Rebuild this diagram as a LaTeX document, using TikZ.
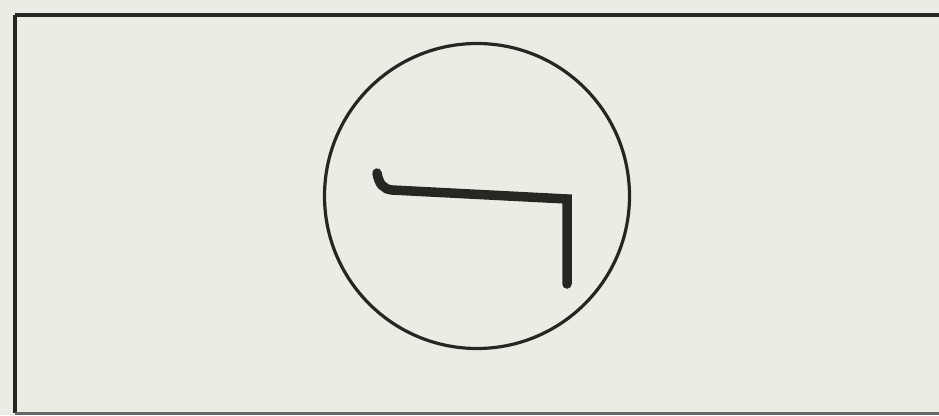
\documentclass[tikz,border=0pt]{standalone}
\definecolor{paper}{HTML}{ECEBE4}
\definecolor{ink}{HTML}{262623}
\tikzset{
  frameline/.style={draw=ink, line width=4.5pt},
  ringline/.style={draw=ink, line width=3.2pt},
  hookline/.style={draw=ink, line width=9.5pt, line cap=round, line join=miter}
}
\begin{document}
\begin{tikzpicture}[x=1pt,y=-1pt]
  \fill[paper] (0,0) rectangle (939,415);
  \useasboundingbox (0,0) rectangle (939,415);
  \begin{scope}
    \clip (0,0) rectangle (939,415);
    \draw[frameline] (15,15) -- (950,15);
    \draw[frameline] (15,15) -- (15,413);
    \draw[draw=ink!70, line width=3pt] (15,413) -- (950,413);
  \end{scope}
  \node[circle, ringline, minimum size=305pt, inner sep=0pt] (ring) at (477,196) {};
  \coordinate (tip) at (377,173);
  \coordinate (bend) at (392,190);
  \coordinate (corner) at (567,199);
  \coordinate (foot) at (567,284);
  \draw[hookline] (tip) .. controls (379,184) and (383,189) .. (bend) -- (corner) -- (foot);
\end{tikzpicture}
\end{document}
